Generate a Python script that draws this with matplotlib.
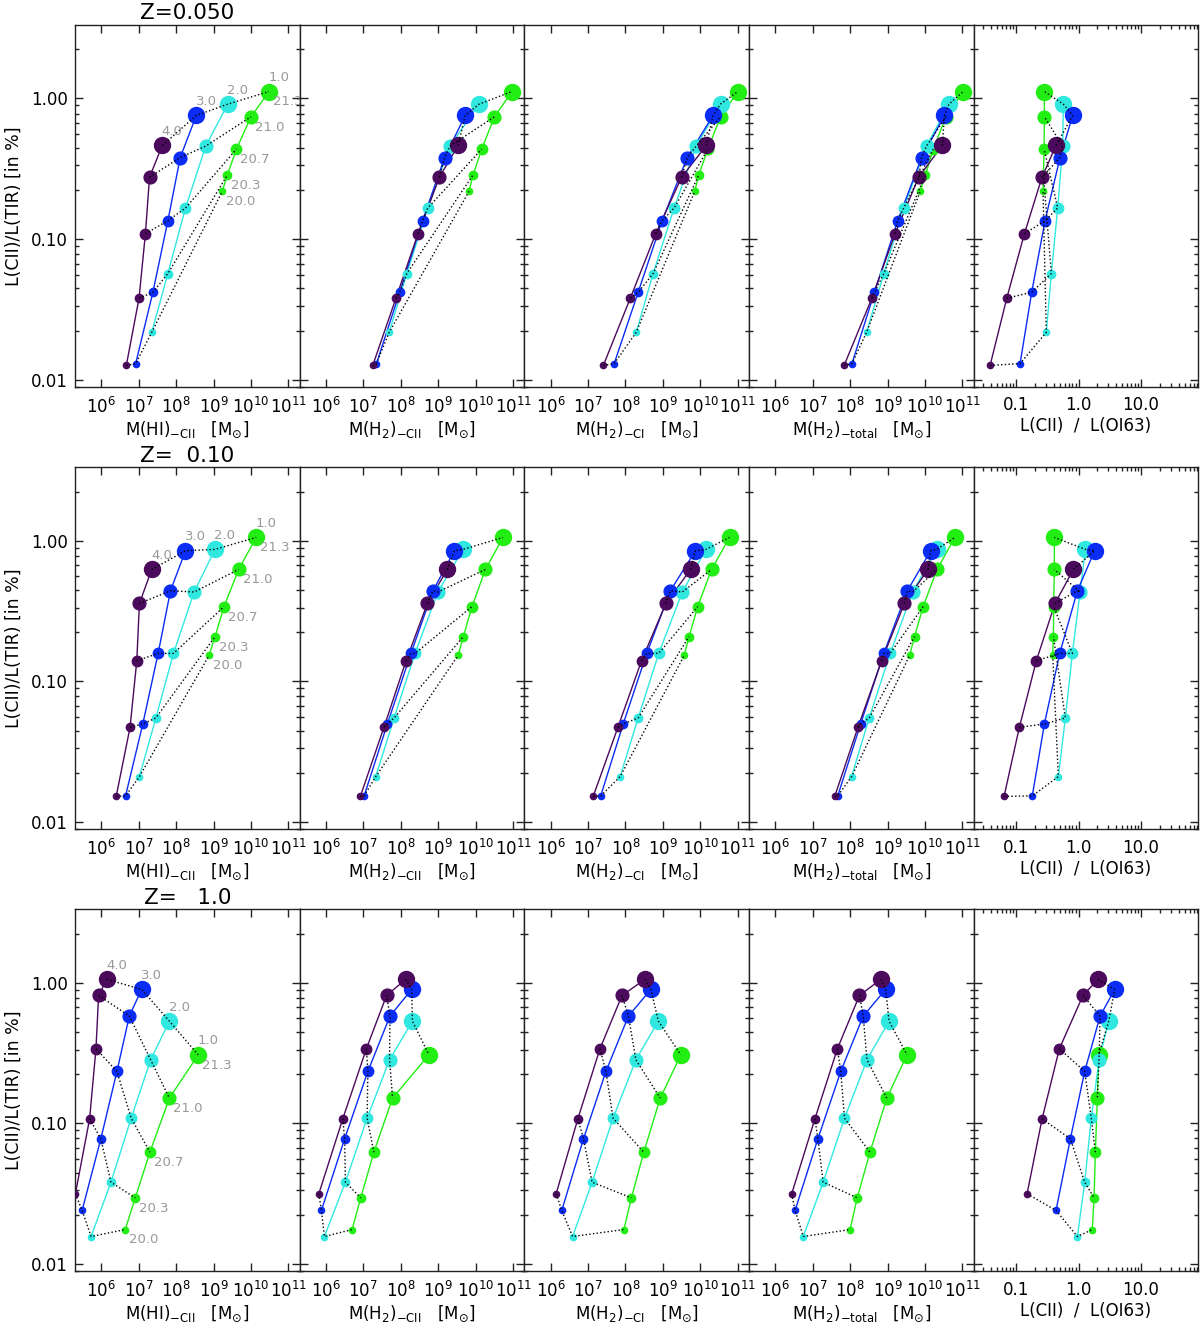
import numpy as np
import matplotlib
matplotlib.use('Agg')
import matplotlib.pyplot as plt
from matplotlib.ticker import FixedLocator, NullLocator, LogLocator, NullFormatter

plt.rcParams['font.family'] = ['DejaVu Sans']
plt.rcParams['mathtext.fontset'] = 'dejavusans'

# log N(H) of each model point, log U (G0) of each track
LOGN = ['20.0', '20.3', '20.7', '21.0', '21.3']
LOGU = ['4.0', '3.0', '2.0', '1.0']
COLORS = ['#4b0a5c', '#0a2cf5', '#30e8e0', '#22ee14']
SIZES = [4.5, 6.0, 7.5, 9.2, 11.5]

# ---- Z = 0.050 ----
Y1 = [[0.0126, 0.0379, 0.109, 0.275, 0.463],
      [0.0130, 0.0418, 0.135, 0.380, 0.757],
      [0.0217, 0.0568, 0.166, 0.458, 0.911],
      [0.218, 0.286, 0.436, 0.741, 1.12]]
X1_HI = [[6.67, 7.01, 7.18, 7.29, 7.63],
         [6.92, 7.38, 7.78, 8.11, 8.54],
         [7.35, 7.78, 8.25, 8.79, 9.38],
         [9.23, 9.37, 9.61, 10.00, 10.48]]
X1_H2CII = [[7.25, 7.87, 8.46, 9.03, 9.53],
            [7.35, 7.97, 8.58, 9.17, 9.72],
            [7.69, 8.16, 8.72, 9.31, 10.09],
            [9.82, 9.93, 10.16, 10.50, 10.97]]
X1_H2CI = [[7.41, 8.13, 8.81, 9.50, 10.16],
           [7.70, 8.34, 8.98, 9.65, 10.34],
           [8.29, 8.74, 9.30, 9.89, 10.54],
           [9.85, 9.96, 10.20, 10.54, 11.00]]
X1_H2TOT = [[7.84, 8.58, 9.20, 9.83, 10.46],
            [8.05, 8.65, 9.27, 9.91, 10.52],
            [8.44, 8.90, 9.43, 10.04, 10.64],
            [9.87, 10.01, 10.22, 10.56, 11.02]]
R1 = [[0.0384, 0.071, 0.136, 0.26, 0.436],
      [0.116, 0.178, 0.291, 0.506, 0.807],
      [0.305, 0.367, 0.464, 0.558, 0.571],
      [0.27, 0.274, 0.281, 0.284, 0.284]]

# ---- Z = 0.10 ----
Y2 = [[0.0152, 0.0471, 0.140, 0.358, 0.625],
      [0.0153, 0.0497, 0.158, 0.441, 0.849],
      [0.0210, 0.0549, 0.158, 0.432, 0.868],
      [0.153, 0.208, 0.340, 0.625, 1.056]]
X2_HI = [[6.40, 6.77, 6.95, 7.02, 7.35],
         [6.65, 7.11, 7.52, 7.85, 8.25],
         [7.02, 7.46, 7.93, 8.48, 9.04],
         [8.88, 9.04, 9.28, 9.67, 10.14]]
X2_H2CII = [[6.92, 7.55, 8.14, 8.71, 9.24],
            [7.02, 7.64, 8.27, 8.86, 9.43],
            [7.33, 7.82, 8.38, 8.99, 9.66],
            [9.53, 9.67, 9.90, 10.26, 10.73]]
X2_H2CI = [[7.14, 7.80, 8.43, 9.08, 9.74],
           [7.34, 7.94, 8.57, 9.20, 9.87],
           [7.86, 8.34, 8.89, 9.52, 10.15],
           [9.57, 9.70, 9.93, 10.30, 10.78]]
X2_H2TOT = [[7.59, 8.21, 8.84, 9.45, 10.08],
            [7.67, 8.28, 8.90, 9.53, 10.15],
            [8.04, 8.51, 9.07, 9.67, 10.31],
            [9.59, 9.72, 9.95, 10.32, 10.80]]
R2 = [[0.0643, 0.113, 0.211, 0.42, 0.827],
      [0.182, 0.284, 0.50, 0.958, 1.81],
      [0.475, 0.615, 0.797, 1.057, 1.29],
      [0.386, 0.396, 0.40, 0.41, 0.41]]

# ---- Z = 1.0 ----
Y3 = [[0.0315, 0.1076, 0.339, 0.813, 1.056],
      [0.024, 0.0776, 0.234, 0.579, 0.897],
      [0.01566, 0.0381, 0.1088, 0.283, 0.533],
      [0.01755, 0.0295, 0.0623, 0.151, 0.307]]
X3_HI = [[5.31, 5.69, 5.86, 5.93, 6.15],
         [5.49, 5.99, 6.42, 6.75, 7.08],
         [5.73, 6.26, 6.80, 7.32, 7.82],
         [6.64, 6.91, 7.30, 7.82, 8.59]]
X3_H2CII = [[5.81, 6.45, 7.08, 7.62, 8.13],
            [5.88, 6.50, 7.12, 7.71, 8.29],
            [5.96, 6.52, 7.10, 7.70, 8.31],
            [6.70, 6.93, 7.28, 7.78, 8.75]]
X3_H2CI = [[6.15, 6.73, 7.32, 7.91, 8.52],
           [6.30, 6.88, 7.48, 8.08, 8.68],
           [6.59, 7.11, 7.67, 8.28, 8.88],
           [7.96, 8.16, 8.49, 8.93, 9.48]]
X3_H2TOT = [[6.44, 7.06, 7.66, 8.25, 8.82],
            [6.53, 7.14, 7.75, 8.35, 8.95],
            [6.75, 7.28, 7.85, 8.45, 9.04],
            [8.00, 8.19, 8.53, 8.98, 9.52]]
R3 = [[0.150, 0.261, 0.493, 1.18, 2.05],
      [0.436, 0.74, 1.255, 2.21, 3.79],
      [0.958, 1.255, 1.60, 2.13, 3.04],
      [1.66, 1.77, 1.86, 2.0, 2.10]]

TITLES = ['Z=0.050', 'Z=  0.10', 'Z=   1.0']
XLABELS = [r'M(HI)$_{\mathregular{-CII}}$   [M$_{\odot}$]',
           r'M(H$_2$)$_{\mathregular{-CII}}$   [M$_{\odot}$]',
           r'M(H$_2$)$_{\mathregular{-CI}}$   [M$_{\odot}$]',
           r'M(H$_2$)$_{\mathregular{-total}}$   [M$_{\odot}$]',
           'L(CII)  /  L(OI63)']

ROWS = [
    (Y1, [X1_HI, X1_H2CII, X1_H2CI, X1_H2TOT], R1),
    (Y2, [X2_HI, X2_H2CII, X2_H2CI, X2_H2TOT], R2),
    (Y3, [X3_HI, X3_H2CII, X3_H2CI, X3_H2TOT], R3),
]

W, H = 1200, 1324
fig = plt.figure(figsize=(W / 100, H / 100), dpi=100)

col_left = [75, 299.7, 524.3, 749, 973.7]
col_w = 224.7
row_top = [25, 467.3, 909.3]
row_h = 361.7

frame_col = '#222222'
label_gray = '#999999'
ymin, ymax = 0.0089, 3.33
# minor y ticks sit slightly off the decades, as in the original axis
yminor = [k * 10.0 ** d * 1.115 for d in range(-3, 1) for k in range(2, 9)]


def draw_panel(ax, xs, ys, labels=False):
    # tracks of constant U, drawn green first so purple ends up on top
    for i in reversed(range(4)):
        ax.plot(xs[i], ys[i], '-', color=COLORS[i], lw=1.0, zorder=2)
        for j in range(5):
            ax.plot(xs[i][j], ys[i][j], 'o', ms=SIZES[j], color=COLORS[i],
                    mec=COLORS[i], zorder=3)
    # lines of constant N(H)
    for j in range(5):
        ax.plot([xs[i][j] for i in range(4)], [ys[i][j] for i in range(4)],
                ':', color='black', lw=1.0, zorder=4)
    if labels:
        for i in range(4):
            ax.annotate(LOGU[i], (xs[i][4], ys[i][4]), xytext=(7, 10),
                        textcoords='offset points', ha='center', va='center',
                        fontsize=9.5, color=label_gray, zorder=5)
        for j in range(5):
            ax.annotate(LOGN[j], (xs[3][j], ys[3][j]), xytext=(13.5, -7.5),
                        textcoords='offset points', ha='center', va='center',
                        fontsize=9.5, color=label_gray, zorder=5)


for r, (Y, masses, R) in enumerate(ROWS):
    for c in range(5):
        left = col_left[c] / W
        bottom = 1 - (row_top[r] + row_h) / H
        ax = fig.add_axes([left, bottom, col_w / W, row_h / H])
        ax.set_yscale('log')
        ax.set_xscale('log')
        if c < 4:
            xs = [[10.0 ** v for v in track] for track in masses[c]]
            draw_panel(ax, xs, Y, labels=(c == 0))
            ax.set_xlim(10 ** 5.3, 10 ** 11.3)
            ax.xaxis.set_major_locator(FixedLocator([10.0 ** e for e in range(6, 12)]))
            ax.set_xticklabels([r'$10^{%d}$' % e for e in range(6, 12)])
            ax.xaxis.set_minor_locator(NullLocator())
        else:
            draw_panel(ax, R, Y)
            ax.set_xlim(0.021, 82.8)
            ax.xaxis.set_major_locator(FixedLocator([0.1, 1.0, 10.0]))
            ax.set_xticklabels(['0.1', '1.0', '10.0'])
            ax.xaxis.set_minor_locator(LogLocator(base=10, subs=np.arange(2, 10), numticks=20))
            ax.xaxis.set_minor_formatter(NullFormatter())
        ax.set_ylim(ymin, ymax)
        ax.yaxis.set_major_locator(FixedLocator([0.01, 0.1, 1.0]))
        ax.yaxis.set_minor_locator(FixedLocator(yminor))
        ax.yaxis.set_minor_formatter(NullFormatter())
        if c == 0:
            ax.set_yticklabels(['0.01', '0.10', '1.00'])
            ax.set_ylabel('L(CII)/L(TIR) [in %]', fontsize=12.5, labelpad=6)
            ax.set_title(TITLES[r], fontsize=15.5, pad=4)
        else:
            ax.set_yticklabels([])
        ax.set_xlabel(XLABELS[c], fontsize=12, labelpad=2)
        ax.tick_params(which='both', direction='in', top=True, right=True,
                       color=frame_col, labelsize=12, width=1.0)
        ax.tick_params(which='major', length=5.5)
        ax.tick_params(which='minor', length=3)
        ax.tick_params(axis='x', pad=7)
        ax.tick_params(axis='y', pad=5)
        for s in ax.spines.values():
            s.set_color(frame_col)
            s.set_linewidth(1.0)

fig.savefig('out.png', dpi=100)
